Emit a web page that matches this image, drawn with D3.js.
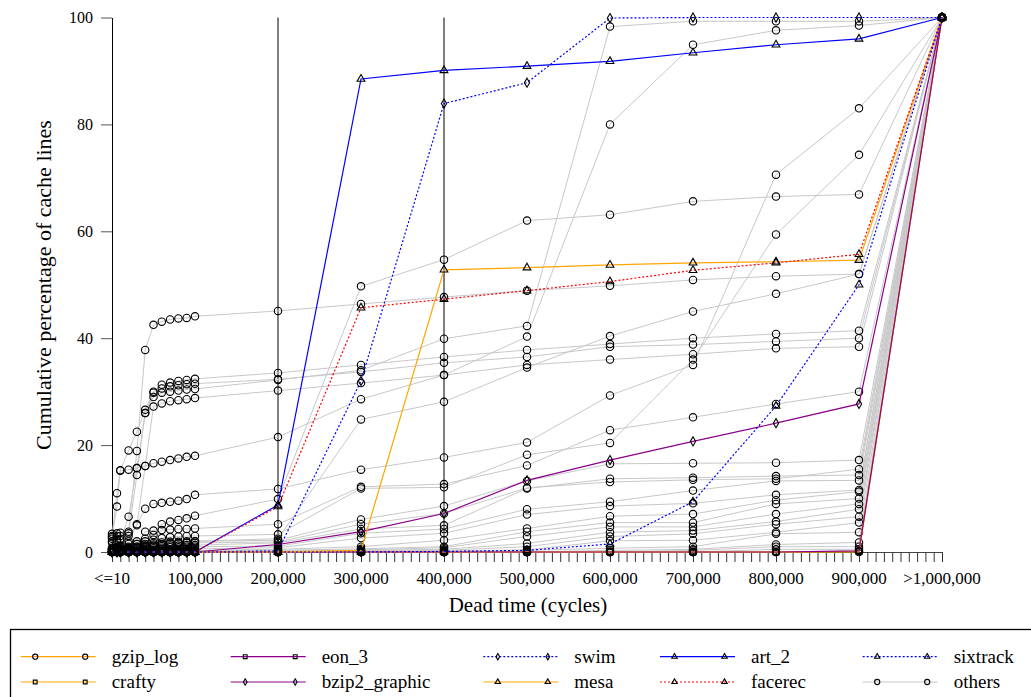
<!DOCTYPE html>
<html>
<head>
<meta charset="utf-8">
<script src="https://cdn.jsdelivr.net/npm/d3@7"></script>
<style>
  body { margin: 0; background: #fff; }
  text { font-family: 'Liberation Serif', 'DejaVu Serif', serif; fill: #000; }
</style>
</head>
<body>
<svg id="chart" width="1031" height="697"></svg>
<script>
// x positions (cycles) of each sample column
const xValues = [0, 6000, 10000, 20000, 30000, 40000, 50000, 60000, 70000, 80000, 90000,
  100000, 200000, 300000, 400000, 500000, 600000, 700000, 800000, 900000, 1000000];
const xTickValues = [0, 100000, 200000, 300000, 400000, 500000, 600000, 700000, 800000, 900000, 1000000];
const xTickLabels = ['<=10', '100,000', '200,000', '300,000', '400,000', '500,000', '600,000',
  '700,000', '800,000', '900,000', '>1,000,000'];
const yTickValues = [0, 20, 40, 60, 80, 100];
const markedCycles = [200000, 400000];

// named benchmarks
const gzipLog = [0, 0, 0, 0, 0, 0, 0, 0, 0, 0, 0, 0, 0, 0, 0, 0, 0, 0, 0, 0, 100];
const crafty = [0, 0, 0, 0, 0, 0, 0, 0, 0, 0, 0, 0, 0, 0, 0, 0, 0, 0, 0, 0.1, 100];
const eon3 = [0, 0, 0, 0, 0, 0, 0, 0, 0, 0, 0, 0, 0, 0, 0, 0, 0, 0, 0, 0.2, 100];
const bzip2Graphic = [0, 0, 0, 0, 0, 0, 0, 0, 0, 0, 0, 0, 1.4, 3.8, 7.2, 13.4, 17.2, 20.7, 24.1, 27.7, 100];
const swim = [0, 0, 0, 0, 0, 0, 0, 0, 0, 0, 0, 0, 0.2, 32.0, 83.9, 87.8, 99.9, 100, 100, 100, 100];
const mesa = [0, 0, 0, 0, 0, 0, 0, 0, 0, 0, 0, 0, 0, 0.3, 52.8, 53.2, 53.7, 54.1, 54.3, 54.6, 100];
const art2 = [0, 0, 0, 0, 0, 0, 0, 0, 0, 0, 0, 0, 8.8, 88.5, 90.1, 90.9, 91.8, 93.4, 94.9, 96.0, 100];
const facerec = [0, 0, 0, 0, 0, 0, 0, 0, 0, 0, 0, 0, 8.5, 45.7, 47.3, 48.9, 50.6, 52.7, 54.1, 55.7, 100];
const sixtrack = [0, 0, 0, 0, 0, 0, 0, 0, 0, 0, 0, 0, 0, 0, 0.1, 0.3, 1.5, 9.4, 27.3, 50.0, 100];

// the rest of the benchmarks (grey)
const others = [
  [3.4, 3.5, 3.6, 3.8, 18.9, 37.8, 42.5, 43.1, 43.5, 43.7, 43.8, 44.1, 45.1, 46.4, 47.7, 48.9, 49.8, 50.9, 51.6, 52.0, 100],
  [3.0, 11.0, 15.3, 19.0, 22.5, 26.6, 30.0, 31.3, 31.7, 32.0, 32.2, 32.4, 33.5, 35.0, 36.5, 37.8, 38.9, 40.0, 40.8, 41.4, 100],
  [2.8, 8.5, 15.2, 15.4, 15.7, 26.0, 29.8, 30.6, 31.0, 31.2, 31.4, 31.5, 32.3, 33.7, 35.4, 36.5, 38.4, 38.8, 39.4, 40.0, 100],
  [2.5, 3.0, 3.0, 3.5, 14.4, 26.0, 29.0, 29.8, 30.0, 30.2, 30.4, 30.5, 32.2, 34.0, 39.9, 42.3, 98.3, 99.3, 99.3, 99.3, 100],
  [2.0, 2.2, 2.5, 3.0, 5.0, 16.1, 27.2, 27.8, 28.2, 28.4, 28.6, 28.8, 30.2, 31.6, 33.1, 35.0, 36.0, 37.0, 38.1, 38.4, 100],
  [1.8, 2.0, 2.2, 6.6, 15.7, 16.1, 16.6, 16.9, 17.2, 17.5, 17.8, 18.0, 21.5, 28.6, 33.1, 40.3, 80.0, 94.9, 97.6, 98.5, 100],
  [0.5, 0.5, 0.6, 0.8, 1.5, 3.8, 4.0, 5.2, 5.7, 6.0, 6.3, 6.8, 9.9, 49.7, 54.7, 62.0, 63.1, 65.6, 66.5, 66.9, 100],
  [0.4, 0.4, 0.5, 0.6, 0.8, 1.0, 1.2, 1.4, 1.6, 1.7, 1.8, 2.0, 2.5, 24.8, 28.1, 34.5, 40.4, 45.0, 48.3, 52.0, 100],
  [0.8, 1.0, 1.2, 2.0, 5.2, 8.1, 9.0, 9.2, 9.4, 9.6, 9.9, 10.7, 11.8, 15.4, 17.7, 20.5, 29.3, 35.0, 70.6, 83.0, 100],
  [0.6, 0.8, 1.0, 1.5, 2.0, 2.5, 3.2, 4.1, 4.2, 4.3, 4.3, 4.4, 5.2, 12.2, 12.7, 16.2, 22.8, 25.2, 27.7, 30.0, 100],
  [0.5, 0.6, 0.8, 1.0, 1.5, 2.0, 2.3, 2.6, 2.8, 2.9, 3.0, 3.0, 3.3, 11.9, 12.1, 18.2, 20.4, 36.0, 59.4, 74.3, 100],
  [0.4, 0.5, 0.6, 0.8, 1.0, 1.5, 1.7, 1.8, 1.9, 1.9, 2.0, 2.0, 2.2, 6.1, 8.6, 13.3, 16.5, 16.6, 16.7, 17.2, 100],
  [0.3, 0.4, 0.5, 0.7, 1.0, 1.2, 1.4, 1.5, 1.6, 1.6, 1.7, 1.7, 1.9, 5.2, 7.2, 12.0, 13.1, 13.5, 13.7, 15.5, 100],
  [0.2, 0.3, 0.4, 0.5, 0.7, 0.9, 1.0, 1.1, 1.2, 1.2, 1.3, 1.3, 1.7, 4.3, 5.0, 11.9, 13.7, 13.9, 14.2, 14.4, 100],
  [0.2, 0.2, 0.3, 0.4, 0.5, 0.6, 0.7, 0.8, 0.9, 0.9, 1.0, 1.0, 1.1, 3.5, 4.3, 8.0, 9.4, 11.5, 13.3, 13.4, 100],
  [0.1, 0.1, 0.2, 0.2, 0.3, 0.4, 0.4, 0.5, 0.5, 0.6, 0.6, 0.6, 0.8, 2.6, 3.5, 7.0, 8.6, 9.1, 10.7, 11.6, 100],
  [0, 0, 0.1, 0.1, 0.1, 0.2, 0.2, 0.2, 0.3, 0.3, 0.3, 0.3, 0.5, 1.0, 2.2, 4.4, 6.7, 7.1, 9.7, 11.3, 100],
  [0, 0, 0, 0.1, 0.1, 0.1, 0.1, 0.2, 0.2, 0.2, 0.2, 0.2, 0.3, 0.6, 1.0, 3.8, 5.5, 5.5, 9.0, 10.0, 100],
  [0, 0, 0, 0, 0, 0.1, 0.1, 0.1, 0.1, 0.1, 0.1, 0.1, 0.2, 0.4, 0.8, 2.9, 4.7, 4.7, 7.1, 9.0, 100],
  [0, 0, 0, 0, 0, 0, 0, 0, 0, 0, 0, 0, 0.1, 0.3, 0.5, 1.6, 3.7, 4.0, 5.7, 8.0, 100],
  [0, 0, 0, 0, 0, 0, 0, 0, 0, 0, 0, 0, 0, 0.2, 0.3, 1.0, 2.9, 3.4, 5.2, 6.6, 100],
  [0, 0, 0, 0, 0, 0, 0, 0, 0, 0, 0, 0, 0, 0, 0.2, 0.4, 2.1, 2.2, 3.7, 5.5, 100],
  [0, 0, 0, 0, 0, 0, 0, 0, 0, 0, 0, 0, 0, 0, 0, 0.3, 0.7, 1.0, 3.4, 3.7, 100],
  [0, 0, 0, 0, 0, 0, 0, 0, 0, 0, 0, 0, 0, 0, 0, 0, 0.3, 0.5, 1.4, 1.8, 100],
  [0, 0, 0, 0, 0, 0, 0, 0, 0, 0, 0, 0, 0, 0, 0, 0, 0, 0.3, 1.0, 1.0, 100],
  [0, 0, 0, 0, 0, 0, 0, 0, 0, 0, 0, 0, 0, 0, 0, 0, 0, 0, 0.5, 0.5, 100],
  [0, 0, 0, 0, 0, 0, 0, 0, 0, 0, 0, 0, 0, 0, 0, 0, 0, 0, 0, 0.2, 100],
];

const named = [
  { name: 'gzip_log', values: gzipLog, color: '#ffa500', dash: null, shape: 'circle' },
  { name: 'crafty', values: crafty, color: '#ffa500', dash: null, shape: 'square' },
  { name: 'eon_3', values: eon3, color: '#8b008b', dash: null, shape: 'square' },
  { name: 'bzip2_graphic', values: bzip2Graphic, color: '#8b008b', dash: null, shape: 'diamond' },
  { name: 'swim', values: swim, color: '#0000ff', dash: '2,2', shape: 'diamond' },
  { name: 'mesa', values: mesa, color: '#ffa500', dash: null, shape: 'triangle' },
  { name: 'art_2', values: art2, color: '#0000ff', dash: null, shape: 'triangle' },
  { name: 'facerec', values: facerec, color: '#ff0000', dash: '2,2', shape: 'triangle' },
  { name: 'sixtrack', values: sixtrack, color: '#0000ff', dash: '2,2', shape: 'triangle' },
];
const othersStyle = { name: 'others', color: '#c8c8c8', dash: null, shape: 'circle' };

const svg = d3.select('#chart');
const x = d3.scaleLinear().domain([0, 1000000]).range([112, 942]);
const y = d3.scaleLinear().domain([0, 100]).range([552, 17.5]);

const symbolType = { circle: d3.symbolCircle, square: d3.symbolSquare, diamond: d3.symbolDiamond, triangle: d3.symbolTriangle };
const symbolSize = { circle: 42, square: 30, diamond: 24, triangle: 26 };

function drawMarker(g, shape, cx, cy, scale) {
  if (shape === 'circle') {
    g.append('circle').attr('cx', cx).attr('cy', cy).attr('r', 3.7 * scale)
      .attr('fill', 'none').attr('stroke', '#000').attr('stroke-width', 1.1);
  } else {
    g.append('path')
      .attr('d', d3.symbol().type(symbolType[shape]).size(symbolSize[shape] * scale * scale)())
      .attr('transform', `translate(${cx},${cy})`)
      .attr('fill', 'none').attr('stroke', '#000').attr('stroke-width', 1.1);
  }
}

const line = d3.line().x((d, i) => x(xValues[i])).y((d) => y(d));

// axes
const yAxis = svg.append('g').attr('transform', `translate(${x(0)},0)`)
  .call(d3.axisLeft(y).tickValues(yTickValues).tickSize(11).tickPadding(8).tickSizeOuter(0));
yAxis.attr('font-family', null);
yAxis.select('.domain').attr('stroke', '#000');
yAxis.selectAll('.tick line').attr('stroke', '#555');
yAxis.selectAll('.tick text').attr('font-size', 16);

const xAxis = svg.append('g').attr('transform', `translate(0,${y(0)})`)
  .call(d3.axisBottom(x).tickValues(d3.range(0, 1000001, 10000)).tickSize(10).tickFormat('').tickSizeOuter(0));
xAxis.select('.domain').attr('stroke', '#444');
xAxis.selectAll('.tick line').attr('stroke', '#333');

svg.append('g').selectAll('text')
  .data(xTickValues)
  .join('text')
  .attr('x', (d) => x(d))
  .attr('y', 584)
  .attr('text-anchor', 'middle')
  .attr('font-size', 17)
  .text((d, i) => xTickLabels[i]);

svg.append('text')
  .attr('transform', 'translate(51,285) rotate(-90)')
  .attr('text-anchor', 'middle')
  .attr('font-size', 22)
  .text('Cumulative percentage of cache lines');

svg.append('text')
  .attr('x', 528)
  .attr('y', 612)
  .attr('text-anchor', 'middle')
  .attr('font-size', 21)
  .text('Dead time (cycles)');

// vertical markers
svg.append('g').selectAll('line')
  .data(markedCycles)
  .join('line')
  .attr('x1', (d) => x(d)).attr('x2', (d) => x(d))
  .attr('y1', y(100)).attr('y2', y(0))
  .attr('stroke', '#000').attr('stroke-width', 1);

// grey lines
const plot = svg.append('g');
plot.selectAll('path.other')
  .data(others)
  .join('path')
  .attr('class', 'other')
  .attr('d', line)
  .attr('fill', 'none')
  .attr('stroke', othersStyle.color)
  .attr('stroke-width', 1);

const otherMarks = plot.append('g');
others.forEach((vals) => {
  vals.forEach((v, i) => drawMarker(otherMarks, 'circle', x(xValues[i]), y(v), 1));
});

// highlighted benchmarks
named.forEach((s) => {
  plot.append('path')
    .attr('d', line(s.values))
    .attr('fill', 'none')
    .attr('stroke', s.color)
    .attr('stroke-width', 1.2)
    .attr('stroke-dasharray', s.dash);
});
const namedMarks = plot.append('g');
named.forEach((s) => {
  s.values.forEach((v, i) => drawMarker(namedMarks, s.shape, x(xValues[i]), y(v), 1));
});

// legend
const legend = svg.append('g');
legend.append('rect')
  .attr('x', 10.5).attr('y', 629.5).attr('width', 1040).attr('height', 100)
  .attr('fill', 'none').attr('stroke', '#000').attr('stroke-width', 1.3);

const legendCols = [20.7, 230.7, 483.3, 660, 862.7];
const legendRows = [656.7, 682];
const legendItems = named.concat([othersStyle]);
// column-major order, two rows
legendItems.forEach((s, k) => {
  const cx = legendCols[Math.floor(k / 2)];
  const cy = legendRows[k % 2];
  legend.append('line')
    .attr('x1', cx).attr('x2', cx + 75).attr('y1', cy).attr('y2', cy)
    .attr('stroke', s.color).attr('stroke-width', 1.2)
    .attr('stroke-dasharray', s.dash);
  drawMarker(legend, s.shape, cx + 14.5, cy, 0.7);
  drawMarker(legend, s.shape, cx + 64.5, cy, 0.7);
  legend.append('text')
    .attr('x', cx + 91)
    .attr('y', cy + 6)
    .attr('font-size', 19)
    .text(s.name);
});
</script>
</body>
</html>
